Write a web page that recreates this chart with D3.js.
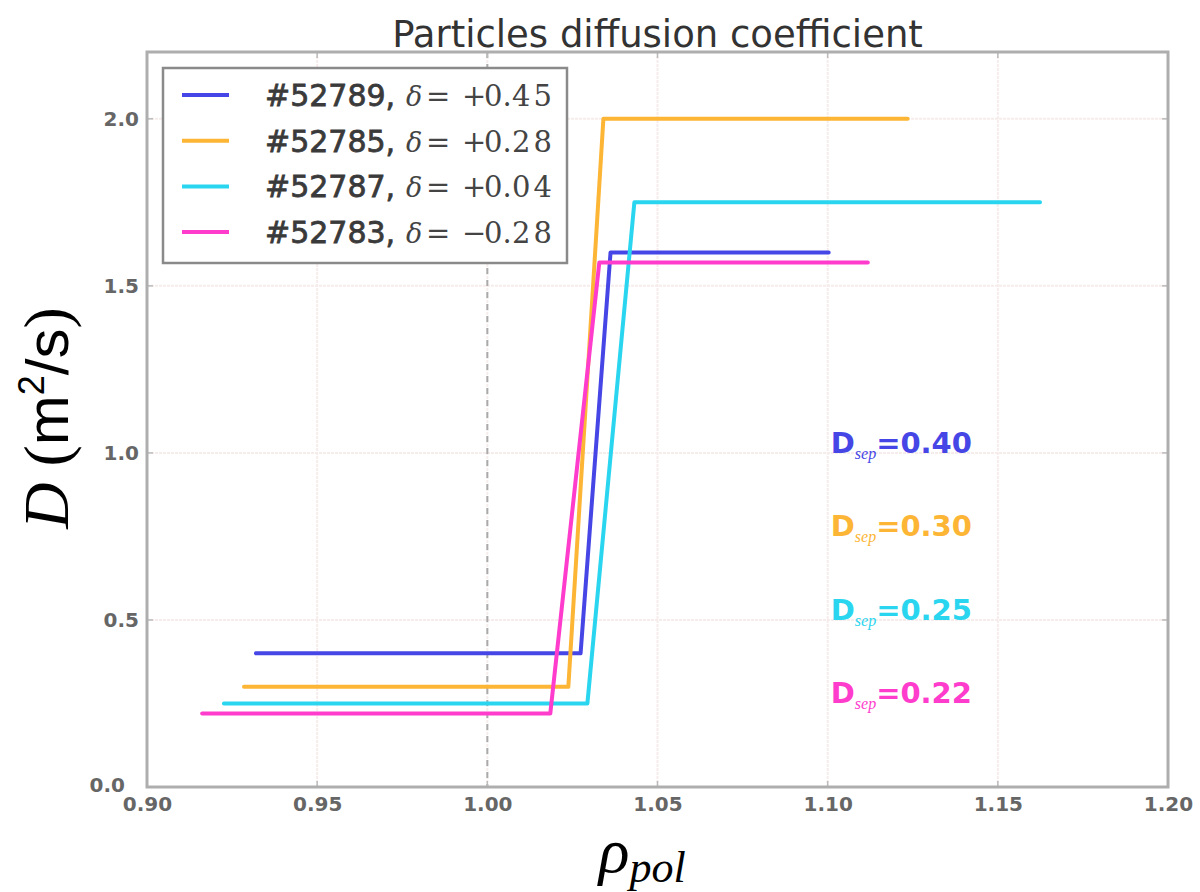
<!DOCTYPE html>
<html><head><meta charset="utf-8">
<script src="https://cdn.jsdelivr.net/npm/d3@7"></script>
<style>html,body{margin:0;padding:0;background:#fff;}svg{display:block;}</style>
</head><body>
<svg id="chart" width="1200" height="892"></svg>
<script>
// ---- data ----
const shots = ["#52789", "#52785", "#52787", "#52783"];
const deltaSigns = ["+", "+", "+", "\u2212"];
const deltaInts = ["0.", "0.", "0.", "0."];
const deltaFracs = ["45", "28", "04", "28"];
const dsepLabels = ["0.40", "0.30", "0.25", "0.22"];
const rho52789 = [0.932, 1.0274, 1.0362, 1.1003];
const D52789   = [0.40, 0.40, 1.60, 1.60];
const rho52785 = [0.9285, 1.0238, 1.0341, 1.1235];
const D52785   = [0.30, 0.30, 2.00, 2.00];
const rho52787 = [0.9226, 1.0294, 1.0432, 1.1624];
const D52787   = [0.25, 0.25, 1.75, 1.75];
const rho52783 = [0.9162, 1.0185, 1.0329, 1.1118];
const D52783   = [0.22, 0.22, 1.57, 1.57];
const xTicks = [0.90, 0.95, 1.00, 1.05, 1.10, 1.15, 1.20];
const yTicks = [0.0, 0.5, 1.0, 1.5, 2.0];

// ---- styles ----
const colors = ["#4646e6", "#fdb536", "#2ad6ef", "#ff3ccc"];
const seriesRho = [rho52789, rho52785, rho52787, rho52783];
const seriesD = [D52789, D52785, D52787, D52783];

const svg = d3.select("#chart");
const L = 147, R = 1168, T = 52, B = 787;
const x = d3.scaleLinear().domain([0.9, 1.2]).range([L, R]);
const y = d3.scaleLinear().domain([0, 2.2]).range([B, T]);

// grid
const grid = svg.append("g");
grid.selectAll("line.gx").data(xTicks).join("line")
  .attr("x1", d => x(d)).attr("x2", d => x(d)).attr("y1", T).attr("y2", B)
  .attr("stroke", "#f7ecec").attr("stroke-width", 2).attr("stroke-dasharray", "3,1");
grid.selectAll("line.gy").data(yTicks).join("line")
  .attr("y1", d => y(d)).attr("y2", d => y(d)).attr("x1", L).attr("x2", R)
  .attr("stroke", "#f7ecec").attr("stroke-width", 2).attr("stroke-dasharray", "3,1");
// separatrix dashed line
svg.append("line").attr("x1", x(1.0)).attr("x2", x(1.0)).attr("y1", T).attr("y2", B)
  .attr("stroke", "#aaa").attr("stroke-width", 2).attr("stroke-dasharray", "6,6");

// axes (ticks via d3 axes)
const xAxis = d3.axisBottom(x).tickValues(xTicks).tickFormat(d3.format(".2f")).tickSize(0).tickPadding(14);
const yAxis = d3.axisLeft(y).tickValues(yTicks).tickFormat(d3.format(".1f")).tickSize(0).tickPadding(8);
const gx = svg.append("g").attr("transform", `translate(0,${B})`).call(xAxis);
const gy = svg.append("g").attr("transform", `translate(${L},0)`).call(yAxis);
[gx, gy].forEach(g => {
  g.select(".domain").remove();
  g.selectAll("text").attr("font-family", "DejaVu Sans").attr("font-weight", "bold")
    .attr("font-size", 20).attr("fill", "#666");
});
gx.selectAll("text").attr("dy", "0.5em");
// the 0.0 label sits just left of 0.90, as in the reference
gy.selectAll("text").filter(d => d === 0).attr("dx", -14).attr("dy", "0.2em");

// small inner ticks on all spines
const tk = svg.append("g").attr("stroke", "#bbb").attr("stroke-width", 1.5);
xTicks.forEach(v => {
  tk.append("line").attr("x1", x(v)).attr("x2", x(v)).attr("y1", B).attr("y2", B - 6);
  tk.append("line").attr("x1", x(v)).attr("x2", x(v)).attr("y1", T).attr("y2", T + 6);
});
yTicks.forEach(v => {
  tk.append("line").attr("y1", y(v)).attr("y2", y(v)).attr("x1", L).attr("x2", L + 6);
  tk.append("line").attr("y1", y(v)).attr("y2", y(v)).attr("x1", R).attr("x2", R - 6);
});

// lines
const line = d3.line().x(d => x(d[0])).y(d => y(d[1]));
seriesRho.forEach((rr, i) => {
  const pts = rr.map((r, k) => [r, seriesD[i][k]]);
  svg.append("path").attr("d", line(pts)).attr("fill", "none")
    .attr("stroke", colors[i]).attr("stroke-width", 4).attr("stroke-linejoin", "round")
    .attr("stroke-linecap", "round");
});

// spines
svg.append("rect").attr("x", L).attr("y", T).attr("width", R - L).attr("height", B - T)
  .attr("fill", "none").attr("stroke", "#aeaeae").attr("stroke-width", 3);

// title
svg.append("text").attr("x", (L + R) / 2).attr("y", 47).attr("text-anchor", "middle")
  .attr("font-family", "DejaVu Sans").attr("font-size", 37).attr("fill", "#333")
  .text("Particles diffusion coefficient");

// legend
const lg = svg.append("g");
lg.append("rect").attr("x", 163).attr("y", 68).attr("width", 404).attr("height", 195)
  .attr("fill", "#fff").attr("stroke", "#8a8a8a").attr("stroke-width", 2.5);
shots.forEach((s, i) => {
  const cy = 95 + i * 45.7;
  lg.append("line").attr("x1", 182).attr("x2", 229).attr("y1", cy).attr("y2", cy)
    .attr("stroke", colors[i]).attr("stroke-width", 4);
  lg.append("text").attr("x", 265).attr("y", cy + 11)
    .attr("font-family", "DejaVu Sans").attr("font-size", 30).attr("fill", "#3a3a3a")
    .attr("stroke", "#3a3a3a").attr("stroke-width", 0.8)
    .text(s + ",");
  const t = lg.append("text").attr("y", cy + 11)
    .attr("font-family", "DejaVu Serif").attr("font-size", 29).attr("fill", "#444");
  t.append("tspan").attr("x", 406).attr("font-style", "italic").attr("font-size", 27).text("\u03b4");
  t.append("tspan").attr("x", 426).text("=");
  t.append("tspan").attr("x", 462).text(deltaSigns[i]);
  t.append("tspan").attr("x", 484).text(deltaInts[i]);
  t.append("tspan").attr("x", 512).attr("textLength", 40).text(deltaFracs[i]);
});

// D_sep annotations
dsepLabels.forEach((v, i) => {
  const t = svg.append("text").attr("x", x(1.1009)).attr("y", y(1.0 - 0.25 * i))
    .attr("font-family", "DejaVu Sans").attr("font-weight", "bold").attr("font-size", 29)
    .attr("fill", colors[i]);
  t.append("tspan").text("D");
  t.append("tspan").attr("font-family", "Liberation Serif").attr("font-style", "italic")
    .attr("font-weight", "normal").attr("font-size", 16).attr("dy", 6).text("sep");
  t.append("tspan").attr("dy", -6).text("=" + v);
});

// y label
const yl = svg.append("text").attr("transform", "translate(68,418) rotate(-90)")
  .attr("text-anchor", "middle").attr("font-size", 64).attr("fill", "#000");
yl.append("tspan").attr("font-family", "Liberation Serif").attr("font-style", "italic").text("D");
yl.append("tspan").attr("font-family", "Liberation Serif").text(" (");
yl.append("tspan").attr("font-family", "Liberation Sans").attr("font-size", 60).text("m");
yl.append("tspan").attr("font-family", "Liberation Sans").attr("font-size", 36).attr("dy", -24).text("2");
yl.append("tspan").attr("font-family", "Liberation Sans").attr("font-size", 60).attr("dy", 24).text("/s");
yl.append("tspan").attr("font-family", "Liberation Serif").text(")");

// x label
const xl = svg.append("text").attr("x", x(1.0) + 155).attr("y", 872).attr("text-anchor", "middle")
  .attr("font-family", "Liberation Serif").attr("font-style", "italic").attr("fill", "#000");
xl.append("tspan").attr("font-size", 64).text("\u03c1");
xl.append("tspan").attr("font-size", 44).attr("dy", 10).text("pol");
</script>
</body></html>
